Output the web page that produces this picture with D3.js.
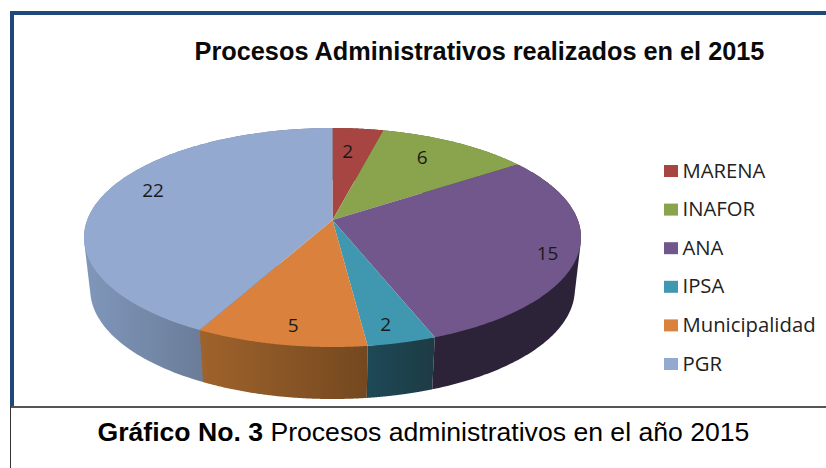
<!DOCTYPE html>
<html><head><meta charset="utf-8">
<script src="https://cdnjs.cloudflare.com/ajax/libs/d3/7.8.5/d3.min.js"></script>
<style>html,body{margin:0;padding:0;background:#fff;overflow:hidden}svg{display:block}</style>
</head><body><svg id="c" width="826" height="468"></svg>
<script>
const categories = ["MARENA","INAFOR","ANA","IPSA","Municipalidad","PGR"];
const values = [2,6,15,2,5,22];
const topColors = ["#a64542","#89a44c","#71578b","#4097b0","#d9813d","#93a9cf"];
const wallStart = ["#6a2c2a","#57682f","#2d2338","#1e4956","#9f632c","#8097bb"];
const wallEnd   = ["#6a2c2a","#57682f","#2d2338","#1d3b45","#74481f","#6b7d99"];
const titleText = "Procesos Administrativos realizados en el 2015";
const captionBold = "Gráfico No. 3";
const captionRest = " Procesos administrativos en el año 2015";

const svg = d3.select("#c");
const cx = 332.5, apexY = 220, Rx = 245.3, Sy = 106.7, k = 0.16, depth = 52, shrink = 0.975;
const project = (theta, r = 1) => {
  const X = r * Math.sin(theta), Y = r * Math.cos(theta), w = 1 + k * Y;
  return [cx + Rx * X / w, apexY - Sy * Y / w];
};
const lower = ([x, y]) => [cx + (x - cx) * shrink, y + depth];
const arcs = d3.pie().sort(null).value(d => d)(values);
const line = d3.line();
const rim = a => d3.range(0, 121).map(i => project(a.startAngle + (a.endAngle - a.startAngle) * i / 120));
const defs = svg.append("defs");

// walls (largest back slice first so the front slices sit over its hull)
arcs.slice().reverse().forEach(a => {
  const i = a.index;
  const pts = rim(a);
  const xs = pts.filter(p => p[1] > apexY).map(p => p[0]);
  const g = defs.append("linearGradient").attr("id", "w" + i).attr("gradientUnits", "userSpaceOnUse")
    .attr("x1", d3.min(xs) ?? 0).attr("x2", d3.max(xs) ?? 1).attr("y1", 0).attr("y2", 0);
  g.append("stop").attr("offset", 0).attr("stop-color", wallStart[i]);
  g.append("stop").attr("offset", 1).attr("stop-color", wallEnd[i]);
  const hull = d3.polygonHull(pts.concat(pts.map(lower)));
  svg.append("path").attr("d", line(hull) + "Z").attr("fill", `url(#w${i})`);
});
// top faces
arcs.forEach((a, i) => {
  svg.append("path").attr("d", line([[cx, apexY]].concat(rim(a))) + "Z").attr("fill", topColors[i]);
});

// labels
const labelRadius = [.72,.73,.88,.82,.85,.78];
const labelNudge = [[-4,-1],[-3,-5],[0,4],[-2,7],[4,2],[1,-11]];
arcs.forEach((a, i) => {
  const [x, y] = project((a.startAngle + a.endAngle) / 2, labelRadius[i]);
  svg.append("text").attr("x", x + labelNudge[i][0]).attr("y", y + labelNudge[i][1] + 7)
    .attr("text-anchor", "middle").attr("font-family", "'Open Sans'").attr("font-size", 19)
    .attr("fill", "#1a1a1a").text(a.data);
});

// legend
const legendY = d3.scalePoint().domain(categories).range([171, 364]);
categories.forEach((c, i) => {
  const y = legendY(c);
  svg.append("rect").attr("x", 664).attr("y", y - 6).attr("width", 14).attr("height", 12).attr("fill", topColors[i]);
  svg.append("text").attr("x", 682.5).attr("y", y + 6.5).attr("font-family", "'Open Sans'")
    .attr("font-size", 20.3).attr("fill", "#222").text(c);
});

// title
svg.append("text").attr("x", 479.5).attr("y", 60).attr("text-anchor", "middle")
  .attr("font-family", "'Liberation Sans'").attr("font-weight", "bold").attr("font-size", 25.3).attr("fill", "#0a0a0a").text(titleText);

// frame
svg.append("rect").attr("x", 10).attr("y", 11).attr("width", 816).attr("height", 4).attr("fill", "#1f497d");
svg.append("rect").attr("x", 10).attr("y", 11).attr("width", 4).attr("height", 396).attr("fill", "#1f497d");
svg.append("rect").attr("x", 10).attr("y", 406).attr("width", 816).attr("height", 2).attr("fill", "#555");
svg.append("rect").attr("x", 10).attr("y", 406).attr("width", 1).attr("height", 62).attr("fill", "#333");

// caption
const cap = svg.append("text").attr("x", 97.5).attr("y", 441).attr("font-family", "'Liberation Sans'").attr("font-size", 26.6).attr("fill", "#000");
cap.append("tspan").attr("font-weight", "bold").text(captionBold);
cap.append("tspan").text(captionRest);
</script></body></html>
